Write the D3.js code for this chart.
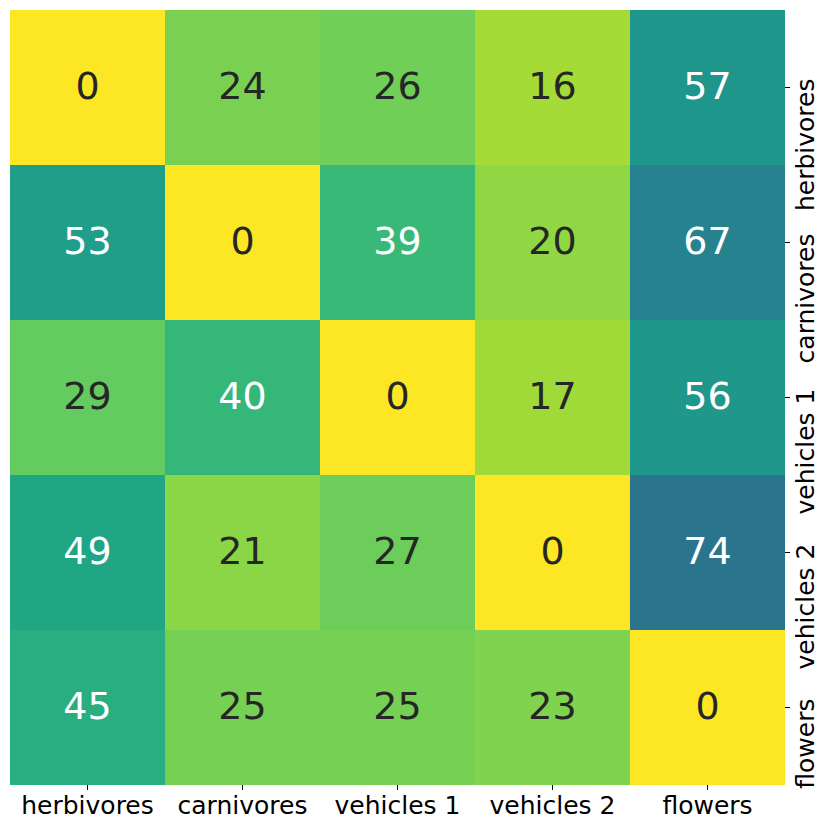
<!DOCTYPE html>
<html>
<head>
<meta charset="utf-8">
<script src="https://cdn.jsdelivr.net/npm/d3@7"></script>
<style>
  body { margin: 0; background: #fff; }
  svg text { font-family: "DejaVu Sans", sans-serif; }
</style>
</head>
<body>
<svg id="chart" width="830" height="830"></svg>
<script>
// categories (same for rows and columns)
const categories = ["herbivores", "carnivores", "vehicles 1", "vehicles 2", "flowers"];

// matrix values, one row per category
const rowHerbivores = [0, 24, 26, 16, 57];
const rowCarnivores = [53, 0, 39, 20, 67];
const rowVehicles1  = [29, 40, 0, 17, 56];
const rowVehicles2  = [49, 21, 27, 0, 74];
const rowFlowers    = [45, 25, 25, 23, 0];
const matrix = [rowHerbivores, rowCarnivores, rowVehicles1, rowVehicles2, rowFlowers];

// colour range (reversed viridis)
const colorMin = 0, colorMax = 120;

const svg = d3.select("#chart");
const plotLeft = 10, plotTop = 10, plotRight = 785, plotBottom = 785;

const x = d3.scaleBand().domain(categories).range([plotLeft, plotRight]);
const y = d3.scaleBand().domain(categories).range([plotTop, plotBottom]);
const color = d3.scaleSequential(d3.interpolateViridis).domain([colorMax, colorMin]);

const cells = [];
matrix.forEach((row, i) => {
  row.forEach((v, j) => {
    cells.push({ row: categories[i], col: categories[j], value: v });
  });
});

// relative luminance, same rule seaborn uses for annotation colour
function luminance(c) {
  const rgb = d3.rgb(c);
  const lin = [rgb.r, rgb.g, rgb.b].map(v => {
    v /= 255;
    return v <= 0.03928 ? v / 12.92 : Math.pow((v + 0.055) / 1.055, 2.4);
  });
  return 0.2126 * lin[0] + 0.7152 * lin[1] + 0.0722 * lin[2];
}

// cells
svg.append("g")
  .selectAll("rect")
  .data(cells)
  .enter().append("rect")
    .attr("x", d => x(d.col))
    .attr("y", d => y(d.row))
    .attr("width", x.bandwidth())
    .attr("height", y.bandwidth())
    .attr("fill", d => color(d.value))
    .attr("shape-rendering", "crispEdges");

// annotations
svg.append("g")
  .selectAll("text")
  .data(cells)
  .enter().append("text")
    .attr("x", d => x(d.col) + x.bandwidth() / 2)
    .attr("y", d => y(d.row) + y.bandwidth() / 2)
    .attr("dy", "0.29em")
    .attr("text-anchor", "middle")
    .style("font-size", "38px")
    .attr("fill", d => luminance(color(d.value)) > 0.408 ? "#262626" : "#ffffff")
    .text(d => d.value);

// bottom axis
const xAxis = svg.append("g")
  .attr("transform", `translate(0,${plotBottom})`)
  .call(d3.axisBottom(x).tickSize(5).tickPadding(6));
xAxis.select(".domain").remove();
xAxis.selectAll("text").style("font-size", "25px").attr("fill", "#000");
xAxis.selectAll("line").attr("stroke", "#000").attr("stroke-width", 1);

// right axis, rotated labels (matplotlib-style: end of text just above the tick)
const yAxis = svg.append("g")
  .attr("transform", `translate(${plotRight},0)`)
  .call(d3.axisRight(y).tickSize(5));
yAxis.select(".domain").remove();
yAxis.selectAll("text")
  .attr("x", 9)
  .attr("dy", 0)
  .attr("text-anchor", "end")
  .attr("transform", "translate(29,0) rotate(-90)")
  .style("font-size", "25px")
  .attr("fill", "#000");
yAxis.selectAll("line").attr("stroke", "#000").attr("stroke-width", 1);
</script>
</body>
</html>
